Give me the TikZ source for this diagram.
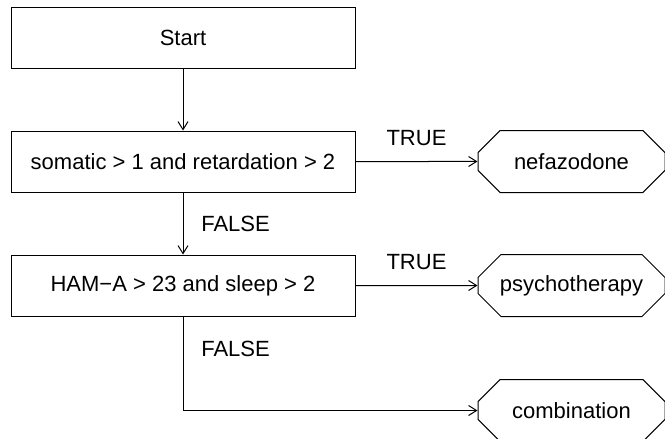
\documentclass[tikz,border=0pt]{standalone}
\usepackage{fontspec}
\setmainfont{Liberation Sans}
\usepackage{tikz}
\usetikzlibrary{shapes.misc, arrows.meta, positioning}

\begin{document}
\begin{tikzpicture}[line width=0.75pt, font=\fontsize{16.5}{19.8}\selectfont]
\tikzstyle{split} = [rectangle, draw, minimum width=258pt, minimum height=45.75pt, inner sep=0pt]
\tikzstyle{leaf} = [chamfered rectangle, draw, chamfered rectangle xsep=6.75pt, chamfered rectangle ysep=10.5pt, minimum width=140.25pt, minimum height=46.5pt, inner sep=0pt]
\tikzstyle{arrow} = [->, >={Straight Barb[length=6pt, width=7.5pt]}]

\useasboundingbox (0,0) rectangle (498.75pt,-329.25pt);

\node (start) [split] at (137.25pt,-28.125pt) {Start};
\node (n1) [split, below=46.5pt of start] {somatic > 1 and retardation > 2};
\node (n2) [split, below=46.5pt of n1] {HAM\textminus A > 23 and sleep > 2};
\node (nefa) [leaf, right=91.5pt of n1] {nefazodone};
\node (psych) [leaf, right=91.5pt of n2] {psychotherapy};
\node (comb) [leaf, below=46.5pt of psych] {combination};

\draw [arrow] (start) -- (n1);
\draw [arrow] (n1) -- node[right=10pt] {FALSE} (n2);
\draw [arrow] (n1) -- node[above=8pt] {TRUE} (nefa);
\draw [arrow] (n2) -- node[above=8pt] {TRUE} (psych);
\draw [arrow] (n2.south) |- node[pos=0.17, right=10pt] {FALSE} (comb.west);

\end{tikzpicture}
\end{document}
